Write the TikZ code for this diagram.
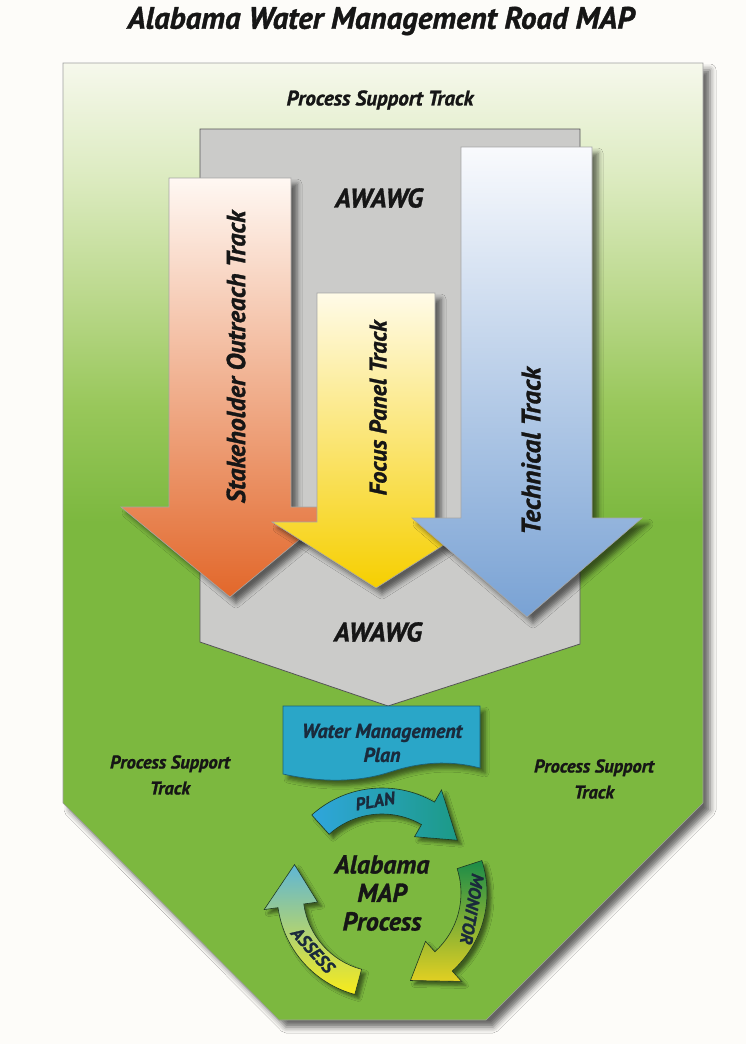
\documentclass[tikz,border=0pt]{standalone}
\usepackage{fontspec}
\setmainfont{PT Sans}[BoldItalicFeatures={FakeBold=1.2}]
\usetikzlibrary{shadows.blur}
\definecolor{paper}{HTML}{FDFCF9}
\definecolor{gB}{HTML}{7CB83F}
\definecolor{g1}{HTML}{98C75A}
\definecolor{g2}{HTML}{BCD98E}
\definecolor{g3}{HTML}{DCEBC0}
\definecolor{gT}{HTML}{F6F8EC}
\definecolor{grayfill}{HTML}{CBCBC9}
\definecolor{grayline}{HTML}{555555}
\definecolor{orT}{HTML}{FFF8F3}
\definecolor{orM}{HTML}{F2A272}
\definecolor{orB}{HTML}{E2672A}
\definecolor{yeT}{HTML}{FFFBE8}
\definecolor{yeM}{HTML}{FFE866}
\definecolor{yeB}{HTML}{F6CF00}
\definecolor{blT}{HTML}{F9FAFD}
\definecolor{blM}{HTML}{C2D3EA}
\definecolor{blB}{HTML}{79A2D4}
\definecolor{wmp}{HTML}{2AA6C8}
\definecolor{wmpline}{HTML}{1B6176}
\definecolor{ink}{HTML}{161616}
\definecolor{navy}{HTML}{1A2A3C}
\definecolor{planL}{HTML}{2FA6DC}
\definecolor{planR}{HTML}{1C9A86}
\definecolor{monT}{HTML}{1B8C48}
\definecolor{monM}{HTML}{3E9A3C}
\definecolor{monB}{HTML}{E2D022}
\definecolor{asT}{HTML}{5FB6D6}
\definecolor{asM}{HTML}{BCD24E}
\definecolor{asB}{HTML}{F8EC1A}
\definecolor{cycline}{HTML}{1E3A22}
\pgfdeclareverticalshading{bgshade}{100bp}{color(0bp)=(gB); color(51bp)=(gB); color(57bp)=(g1); color(63bp)=(g2); color(69bp)=(g3); color(75bp)=(gT); color(100bp)=(gT)}
\tikzset{
  lbl/.style={text=ink, font=\bfseries\itshape, align=center, inner sep=0pt},
  bigarrow/.style={draw=gray!70, line width=0.6pt, line join=miter,
    blur shadow={shadow xshift=6pt, shadow yshift=-6pt, shadow blur radius=5pt, shadow opacity=55}},
  cyc/.style={draw=cycline, line width=0.6pt, line join=miter,
    blur shadow={shadow xshift=4pt, shadow yshift=-4pt, shadow blur radius=3pt, shadow opacity=50}},
  cyclbl/.style={text=navy, font=\fontsize{17.5}{18}\selectfont\bfseries\itshape, inner sep=0pt}
}
\begin{document}
\begin{tikzpicture}[x=1pt,y=-1pt]
\useasboundingbox (0,0) rectangle (746,1044);
\fill[paper] (0,0) rectangle (746,1044);

% title
\node[lbl, font=\fontsize{31}{34}\selectfont\bfseries\itshape] (title) at (381,21) {Alabama Water Management Road MAP};

% outer green shape
\path[shading=bgshade, draw=gray!75, line width=0.6pt,
  blur shadow={shadow xshift=7pt, shadow yshift=-7pt, shadow blur radius=6pt, shadow opacity=60}]
  (63,63) -- (703,63) -- (703,803) -- (486,1020) -- (279,1020) -- (63,803) -- cycle;

\node[lbl, font=\fontsize{21}{22}\selectfont\bfseries\itshape] (pst) at (380,100) {Process Support Track};

% gray AWAWG shape
\path[fill=grayfill, draw=grayline, line width=0.8pt]
  (200,129) -- (580,129) -- (580,644) -- (388,706) -- (200,642) -- cycle;
\node[lbl, font=\fontsize{27}{28}\selectfont\bfseries\itshape] (awawgA) at (379,198) {AWAWG};
\node[lbl, font=\fontsize{27}{28}\selectfont\bfseries\itshape] (awawgB) at (378,632) {AWAWG};

% orange arrow
\path[bigarrow, top color=orT, middle color=orM, bottom color=orB]
  (169,178) -- (291,178) -- (291,507) -- (339,507) -- (230,597) -- (121,507) -- (169,507) -- cycle;
\node[lbl, rotate=90, font=\fontsize{26}{28}\selectfont\bfseries\itshape] (sot) at (236,357) {Stakeholder Outreach Track};

% yellow arrow
\path[bigarrow, top color=yeT, middle color=yeM, bottom color=yeB]
  (317,293) -- (435,293) -- (435,522) -- (480,522) -- (376,588) -- (272,522) -- (317,522) -- cycle;
\node[lbl, rotate=90, font=\fontsize{24}{26}\selectfont\bfseries\itshape] (fpt) at (378,408) {Focus Panel Track};

% blue arrow
\path[bigarrow, top color=blT, middle color=blM, bottom color=blB]
  (461,147) -- (592,147) -- (592,518) -- (642,518) -- (527,617) -- (412,518) -- (461,518) -- cycle;
\node[lbl, rotate=90, font=\fontsize{27}{28}\selectfont\bfseries\itshape] (tt) at (531,451) {Technical Track};

% side labels
\node[lbl, font=\fontsize{18.5}{26}\selectfont\bfseries\itshape] (pstL) at (170,775) {Process Support\\Track};
\node[lbl, font=\fontsize{18.5}{26}\selectfont\bfseries\itshape] (pstR) at (594,779) {Process Support\\Track};

% water management plan document
\path[fill=wmp, draw=wmpline, line width=0.7pt,
  blur shadow={shadow xshift=5pt, shadow yshift=-5pt, shadow blur radius=4pt, shadow opacity=50}]
  (283,706) -- (480,706) -- (480,768)
  .. controls (450,760) and (420,762) .. (390,772)
  .. controls (350,785) and (310,780) .. (283,774) -- cycle;
\node[lbl, text=navy, font=\fontsize{20}{24}\selectfont\bfseries\itshape] (wmptext) at (382,743) {Water Management\\Plan};

% cycle
\begin{scope}[shift={(382,893)}]
  \path[cyc, left color=planL, right color=planR]
    (-132:105) arc[start angle=-132, end angle=-60, radius=105] -- (-60:119) -- (-35:92) -- (-60:65) -- (-60:79)
    arc[start angle=-60, end angle=-132, radius=79] -- cycle;
  \path[cyc, top color=monT, middle color=monM, bottom color=monB]
    (-18:105) arc[start angle=-18, end angle=48, radius=105] -- (48:119) -- (72:92) -- (48:65) -- (48:79)
    arc[start angle=48, end angle=-18, radius=79] -- cycle;
  \path[cyc, top color=asT, middle color=asM, bottom color=asB]
    (-255:105) arc[start angle=-255, end angle=-188, radius=105] -- (-188:119) -- (-162:92) -- (-188:65) -- (-188:79)
    arc[start angle=-188, end angle=-255, radius=79] -- cycle;
\end{scope}
\node[cyclbl, rotate=10] (plan) at (375,801) {PLAN};
\node[cyclbl, rotate=-100] (monitor) at (472,909) {MONITOR};
\node[cyclbl, rotate=-48] (assess) at (313,950) {ASSESS};
\node[lbl, font=\fontsize{26}{28.5}\selectfont\bfseries\itshape] (map) at (382,893) {Alabama\\MAP\\Process};
\end{tikzpicture}
\end{document}
